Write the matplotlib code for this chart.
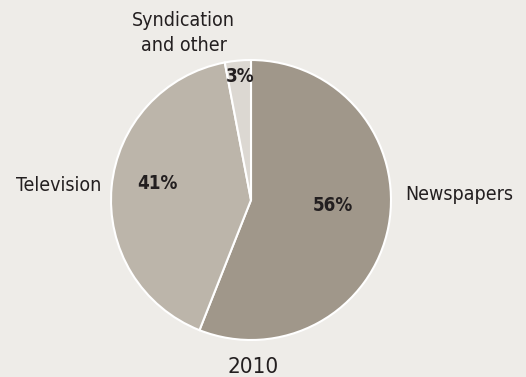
import matplotlib.pyplot as plt

labels = ['Newspapers', 'Television', 'Syndication\nand other']
shares = [56, 41, 3]
colors = ['#a0978a', '#bcb5aa', '#dcd8d2']
year = '2010'

plt.rcParams['font.family'] = ['DejaVu Sans']
plt.rcParams['font.stretch'] = 'condensed'
bg = '#eeece8'
txt = '#231f20'

fig = plt.figure(figsize=(5.26, 3.77), dpi=100, facecolor=bg)
R = 140
cx, cy = 251, 200
ax = fig.add_axes([(cx - R) / 526, (377 - cy - R) / 377, 2 * R / 526, 2 * R / 377])
ax.set_facecolor(bg)

wedges, _ = ax.pie(shares, colors=colors, startangle=90, counterclock=False,
                   radius=1, wedgeprops=dict(edgecolor='white', linewidth=1.5))
ax.set_xlim(-1, 1)
ax.set_ylim(-1, 1)
ax.set_aspect('equal')
ax.axis('off')

# percentage labels inside slices (baseline positions, pie radius = 1)
pct_pos = [(0.586, -0.079), (-0.671, 0.079), (-0.079, 0.843)]
for s, (x, y) in zip(shares, pct_pos):
    ax.text(x, y, f'{s}%', ha='center', va='baseline', fontsize=13.5,
            fontweight='bold', color=txt)

# category labels outside, one text per line
lab_pos = [(1.49, 0.0), (-1.377, 0.064), (-0.482, 1.243)]
for lab, (x, y) in zip(labels, lab_pos):
    for i, line in enumerate(lab.split('\n')):
        ax.text(x, y - i * 0.179, line, ha='center', va='baseline',
                fontsize=14, color=txt, clip_on=False)

ax.text(0.014, -1.236, year, ha='center', va='baseline', fontsize=16,
        color=txt, clip_on=False)

fig.savefig('out.png', dpi=100, facecolor=bg)
